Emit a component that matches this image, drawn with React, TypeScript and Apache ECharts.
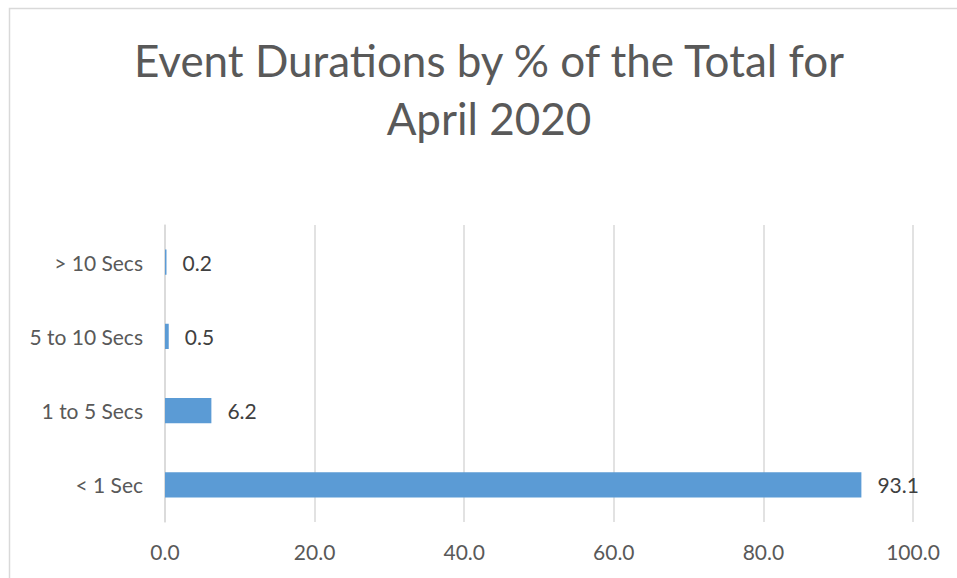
import React, { useEffect, useRef } from "react";
import * as echarts from "echarts";

const titleLines = ["Event Durations by % of the Total for", "April 2020"];
const categories = ["< 1 Sec", "1 to 5 Secs", "5 to 10 Secs", "> 10 Secs"];
const values = [93.1, 6.2, 0.5, 0.2];
const xMin = 0;
const xMax = 100;
const xInterval = 20;

export default function App() {
  const ref = useRef<HTMLDivElement>(null);
  useEffect(() => {
    if (!ref.current) return;
    const chart = echarts.init(ref.current, null, { renderer: "svg" });
    const font = "Lato, 'Open Sans', sans-serif";
    chart.setOption({
      animation: false,
      backgroundColor: "#ffffff",
      title: {
        text: titleLines.join("\n"),
        left: 484,
        top: 26,
        textAlign: "center",
        textStyle: {
          fontFamily: font,
          fontSize: 44,
          fontWeight: "normal",
          color: "#595959",
          lineHeight: 58,
        },
      },
      graphic: [
        {
          type: "rect",
          shape: { x: 9.5, y: 8.5, width: 960, height: 600 },
          style: { fill: "none", stroke: "#d9d9d9", lineWidth: 1.5 },
          silent: true,
        },
      ],
      grid: { left: 165, right: 44, top: 225, bottom: 56, containLabel: false },
      xAxis: {
        type: "value",
        min: xMin,
        max: xMax,
        interval: xInterval,
        axisLine: { show: false },
        axisTick: { show: false },
        splitLine: { show: true, lineStyle: { color: "#d9d9d9", width: 1.5 } },
        axisLabel: {
          formatter: (v: number) => v.toFixed(1),
          color: "#595959",
          fontSize: 21,
          fontFamily: font,
          margin: 19,
        },
      },
      yAxis: {
        type: "category",
        data: categories,
        axisLine: { show: true, lineStyle: { color: "#d9d9d9", width: 1.5 } },
        axisTick: { show: false },
        axisLabel: {
          color: "#595959",
          fontSize: 21,
          fontFamily: font,
          margin: 22,
        },
      },
      series: [
        {
          type: "bar",
          data: values,
          barWidth: "34%",
          itemStyle: { color: "#5b9bd5" },
          label: {
            show: true,
            position: "right",
            distance: 16,
            formatter: (p: any) => Number(p.value).toFixed(1),
            color: "#404040",
            fontSize: 21,
            fontFamily: font,
          },
        },
      ],
    });
    return () => chart.dispose();
  }, []);
  return (
    <div
      ref={ref}
      style={{ position: "fixed", left: 0, top: 0, width: 957, height: 578 }}
    />
  );
}
